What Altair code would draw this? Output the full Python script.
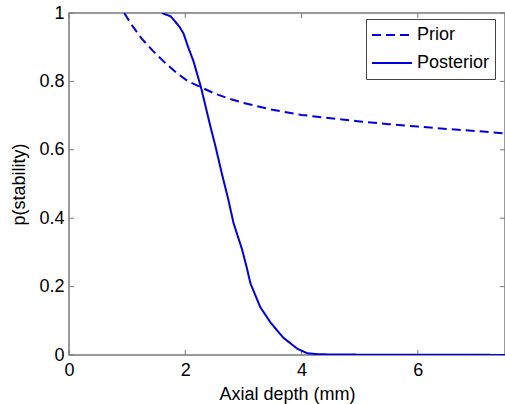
import altair as alt
import pandas as pd

# Prior curve (dashed)
prior_x = [0.95, 1.1, 1.25, 1.44, 1.65, 1.85, 2.05, 2.27, 2.5, 2.75, 3.0, 3.5, 4.0, 4.5, 5.0, 5.5, 6.0, 6.5, 7.0, 7.5]
prior_y = [1.0, 0.96, 0.925, 0.89, 0.855, 0.825, 0.80, 0.783, 0.765, 0.75, 0.737, 0.717, 0.702, 0.692, 0.683, 0.675, 0.668, 0.661, 0.655, 0.648]

# Posterior curve (solid)
post_x = [1.6, 1.75, 1.9, 1.97, 2.05, 2.14, 2.27, 2.43, 2.52, 2.63, 2.74, 2.83, 2.98, 3.06, 3.12, 3.29, 3.47, 3.69, 3.93, 4.1, 4.3, 5.0, 6.8, 7.5]
post_y = [1.0, 0.99, 0.96, 0.94, 0.90, 0.86, 0.783, 0.67, 0.61, 0.53, 0.455, 0.386, 0.307, 0.254, 0.21, 0.14, 0.094, 0.05, 0.018, 0.005, 0.002, 0.001, 0.001, 0.0]

x_ticks = [0, 2, 4, 6]
y_ticks = [0, 0.2, 0.4, 0.6, 0.8, 1]
series = ["Prior", "Posterior"]

BLUE = "#0000e0"
GRAY = "#7a7a7a"
FONT = "Liberation Sans"
W, H = 436, 342

df = pd.concat([
    pd.DataFrame({"x": prior_x, "y": prior_y, "s": series[0], "o": range(len(prior_x))}),
    pd.DataFrame({"x": post_x, "y": post_y, "s": series[1], "o": range(len(post_x))}),
])

xs = alt.Scale(domain=[0, 7.5], nice=False, zero=False)
ys = alt.Scale(domain=[0, 1], nice=False)

lines = alt.Chart(df).mark_line(color=BLUE, strokeWidth=2, clip=True).encode(
    x=alt.X("x:Q", scale=xs, title="Axial depth (mm)",
            axis=alt.Axis(values=x_ticks, format="~g", ticks=False, domain=False, grid=False,
                          labelFlush=False, labelPadding=6, titlePadding=6)),
    y=alt.Y("y:Q", scale=ys, title="p(stability)",
            axis=alt.Axis(values=y_ticks, format="~g", ticks=False, domain=False, grid=False,
                          labelFlush=False, labelPadding=5, titlePadding=10)),
    strokeDash=alt.StrokeDash("s:N", scale=alt.Scale(domain=series, range=[[9, 5], [1, 0]]),
                              legend=alt.Legend(title=None, orient="none", legendX=297, legendY=6,
                                                symbolType="stroke", symbolSize=1600,
                                                symbolStrokeWidth=2, symbolStrokeColor=BLUE,
                                                clipHeight=22, rowPadding=6,
                                                labelFontSize=18, labelFont=FONT, labelColor="black",
                                                labelOffset=4,
                                                fillColor="white", strokeColor="#444444",
                                                padding=5)),
    order="o:Q",
)

xt = pd.DataFrame({"t": x_ticks})
yt = pd.DataFrame({"t": y_ticks})

xb = alt.Chart(xt).mark_rule(color=GRAY).encode(x=alt.X("t:Q", scale=xs), y=alt.value(H), y2=alt.value(H - 5))
xtop = alt.Chart(xt).mark_rule(color=GRAY).encode(x=alt.X("t:Q", scale=xs), y=alt.value(0), y2=alt.value(5))
yl = alt.Chart(yt).mark_rule(color=GRAY).encode(y=alt.Y("t:Q", scale=ys), x=alt.value(0), x2=alt.value(5))
yr = alt.Chart(yt).mark_rule(color=GRAY).encode(y=alt.Y("t:Q", scale=ys), x=alt.value(W - 5), x2=alt.value(W))

chart = alt.layer(xb, xtop, yl, yr, lines).properties(
    width=W, height=H,
    background="white",
    autosize=alt.AutoSizeParams(type="none"),
    padding={"left": 69, "top": 13, "right": 0, "bottom": 49},
).configure_view(stroke=GRAY, strokeWidth=1.5).configure_axis(
    labelFont=FONT, titleFont=FONT, labelFontSize=18, titleFontSize=18,
    labelColor="black", titleColor="black", titleFontWeight="normal",
)

chart.save("out.html", embed_options={"renderer": "svg", "actions": False})
